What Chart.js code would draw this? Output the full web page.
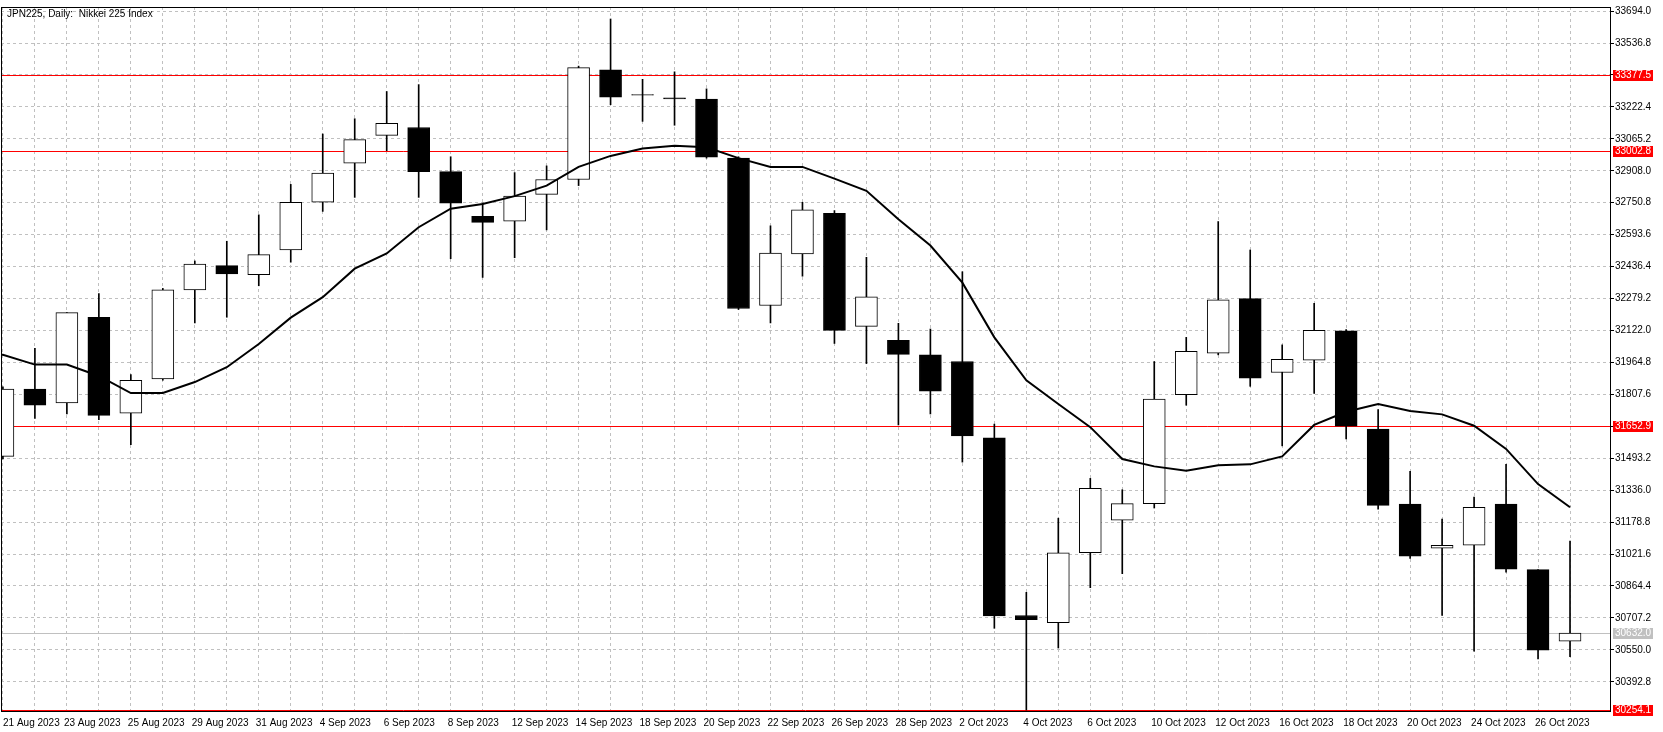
<!DOCTYPE html>
<html>
<head>
<meta charset="utf-8">
<script src="https://cdn.jsdelivr.net/npm/chart.js@4/dist/chart.umd.min.js"></script>
<style>
  html, body { margin: 0; padding: 0; background: #fff; }
  canvas { display: block; }
</style>
</head>
<body>
<canvas id="c" width="1663" height="732"></canvas>
<script>
const DATES = [
  "21 Aug 2023", "22 Aug 2023", "23 Aug 2023", "24 Aug 2023", "25 Aug 2023", "28 Aug 2023", "29 Aug 2023", "30 Aug 2023",
  "31 Aug 2023", "1 Sep 2023", "4 Sep 2023", "5 Sep 2023", "6 Sep 2023", "7 Sep 2023", "8 Sep 2023", "11 Sep 2023",
  "12 Sep 2023", "13 Sep 2023", "14 Sep 2023", "15 Sep 2023", "18 Sep 2023", "19 Sep 2023", "20 Sep 2023", "21 Sep 2023",
  "22 Sep 2023", "25 Sep 2023", "26 Sep 2023", "27 Sep 2023", "28 Sep 2023", "29 Sep 2023", "2 Oct 2023", "3 Oct 2023",
  "4 Oct 2023", "5 Oct 2023", "6 Oct 2023", "9 Oct 2023", "10 Oct 2023", "11 Oct 2023", "12 Oct 2023", "13 Oct 2023",
  "16 Oct 2023", "17 Oct 2023", "18 Oct 2023", "19 Oct 2023", "20 Oct 2023", "23 Oct 2023", "24 Oct 2023", "25 Oct 2023",
  "26 Oct 2023", "27 Oct 2023",
];
const OPEN = [
  31502, 31834, 31765, 32187, 31715, 31883, 32322, 32441, 32396, 32518, 32753, 32945, 33082,
  33121, 32904, 32684, 32660, 32792, 32865, 33405, 33283, 33267, 33261, 32970, 32245,
  32499, 32699, 32142, 32073, 32002, 31969, 31593, 30719, 30684, 31028, 31188, 31270,
  31806, 32010, 32279, 31915, 31976, 32120, 31636, 31267, 31050, 31065, 31267, 30945, 30593,
];
const HIGH = [
  31845, 32034, 32210, 32303, 31905, 32329, 32464, 32561, 32691, 32841, 33089, 33164, 33298,
  33332, 32977, 32749, 32899, 32932, 33423, 33655, 33358, 33395, 33311, 32977, 32637,
  32753, 32712, 32482, 32157, 32129, 32411, 31661, 30833, 31198, 31394, 31338, 31969,
  32088, 32658, 32518, 32051, 32256, 32126, 31733, 31429, 31194, 31302, 31463, 30945, 31085,
];
const LOW = [
  31490, 31689, 31711, 31683, 31560, 31877, 32159, 32187, 32342, 32458, 32708, 32777, 33007,
  32777, 32475, 32383, 32480, 32617, 32835, 33233, 33151, 33132, 32970, 32225, 32159,
  32389, 32058, 31959, 31657, 31711, 31474, 30656, 30254, 30559, 30856, 30925, 31248,
  31754, 32002, 31847, 31554, 31812, 31588, 31242, 31000, 30720, 30544, 30932, 30505, 30517,
];
const CLOSE = [
  31834, 31754, 32210, 31704, 31877, 32322, 32449, 32400, 32495, 32753, 32897, 33061, 33141,
  32904, 32749, 32654, 32783, 32865, 33416, 33270, 33280, 33262, 32975, 32230, 32503,
  32716, 32122, 32288, 32004, 31823, 31603, 30717, 30699, 31028, 31345, 31270, 31784,
  32019, 32273, 31887, 31980, 32122, 31651, 31261, 31011, 31065, 31252, 30947, 30548, 30632,
];
const MA = [
  32002, 31954, 31954, 31898, 31814, 31814, 31868, 31941, 32055, 32185, 32286, 32426, 32501,
  32630, 32721, 32744, 32783, 32835, 32927, 32981, 33018, 33031, 33024, 32970, 32927,
  32927, 32869, 32809, 32669, 32540, 32357, 32088, 31877, 31760, 31646, 31489, 31453, 31431,
  31459, 31463, 31502, 31657, 31722, 31760, 31726, 31709, 31653, 31539, 31366, 31252,
];
const TOP_TICK = 33694.0;
const Y_TICKS = [
  33536.8, 33379.6, 33222.4, 33065.2, 32908.0, 32750.8, 32593.6, 32436.4, 32279.2,
  32122.0, 31964.8, 31807.6, 31650.4, 31493.2, 31336.0, 31178.8, 31021.6, 30864.4, 30707.2,
  30550.0, 30392.8,
];
const HIDDEN_TICKS = [33379.6, 31650.4];
const LEVELS = [33377.5, 33002.8, 31652.9, 30254.1];
const LAST_PRICE = 30632.0;

const FONT = "Liberation Sans";
const idx = DATES.map((d, i) => i);
const up = idx.map((i) => CLOSE[i] >= OPEN[i]);

const levelsPlugin = {
  id: "levels",
  beforeDatasetsDraw(chart) {
    const { ctx, chartArea: a, scales } = chart;
    const y = scales.y;
    ctx.save();
    ctx.lineWidth = 1;
    ctx.strokeStyle = "#c0c0c0";
    ctx.setLineDash([3, 3]);
    let py = Math.round(y.getPixelForValue(TOP_TICK)) + 0.5;
    ctx.beginPath(); ctx.moveTo(a.left, py); ctx.lineTo(a.right, py); ctx.stroke();
    ctx.setLineDash([]);
    py = Math.round(y.getPixelForValue(LAST_PRICE)) + 0.5;
    ctx.beginPath(); ctx.moveTo(a.left, py); ctx.lineTo(a.right, py); ctx.stroke();
    ctx.strokeStyle = "#ff0000";
    LEVELS.forEach((v) => {
      const p = Math.round(y.getPixelForValue(v)) + 0.5;
      ctx.beginPath(); ctx.moveTo(a.left, p); ctx.lineTo(a.right, p); ctx.stroke();
    });
    ctx.restore();
  },
  afterDraw(chart) {
    const { ctx, chartArea: a, scales } = chart;
    const y = scales.y;
    const x = scales.x;
    ctx.save();
    ctx.strokeStyle = "#000";
    ctx.lineWidth = 1;
    ctx.strokeRect(a.left + 0.5, a.top + 0.5, a.right - a.left, a.bottom - a.top);
    ctx.font = "10px " + FONT;
    ctx.textBaseline = "middle";
    ctx.fillStyle = "#000";
    const ty = Math.round(y.getPixelForValue(TOP_TICK)) + 0.5;
    ctx.beginPath(); ctx.moveTo(a.right, ty); ctx.lineTo(a.right + 4, ty); ctx.stroke();
    ctx.fillText(TOP_TICK.toFixed(1), a.right + 5, ty);
    const tag = (v, bg, fg) => {
      const p = Math.round(y.getPixelForValue(v));
      ctx.fillStyle = bg;
      ctx.fillRect(a.right + 3, p - 5, 40, 11);
      ctx.fillStyle = fg;
      ctx.fillText(v.toFixed(1), a.right + 5, p + 0.5);
    };
    tag(LAST_PRICE, "#c0c0c0", "#ffffff");
    LEVELS.forEach((v) => tag(v, "#ff0000", "#ffffff"));
    ctx.fillStyle = "#000";
    ctx.textAlign = "left";
    idx.filter((i) => i % 2 === 0).forEach((i) => {
      const px = Math.max(x.getPixelForValue(i) - 3, a.left + 2);
      ctx.fillText(DATES[i], px, a.bottom + 12);
    });
    ctx.textBaseline = "top";
    ctx.fillText("JPN225, Daily:  Nikkei 225 Index", a.left + 6, a.top + 2);
    ctx.restore();
  },
};

new Chart(document.getElementById("c"), {
  data: {
    datasets: [
      {
        type: "line",
        data: [{ x: -0.06, y: MA[0] }].concat(idx.map((i) => ({ x: i, y: MA[i] }))),
        borderColor: "#000",
        borderWidth: 2,
        pointRadius: 0,
        pointHoverRadius: 0,
        tension: 0,
        order: 0,
      },
      {
        type: "bar",
        data: idx.map((i) => ({ x: i, y: [OPEN[i], CLOSE[i]] })),
        backgroundColor: idx.map((i) => (up[i] ? "#ffffff" : "#000000")),
        borderColor: "#000",
        borderWidth: 1,
        borderSkipped: false,
        barThickness: 22,
        grouped: false,
        order: 1,
      },
      {
        type: "bar",
        data: idx.map((i) => ({ x: i, y: [LOW[i], HIGH[i]] })),
        backgroundColor: "#000",
        barThickness: 1,
        grouped: false,
        order: 2,
      },
    ],
  },
  options: {
    responsive: false,
    animation: false,
    devicePixelRatio: 1,
    layout: { autoPadding: false, padding: { left: 1, top: 1, right: 0, bottom: 0 } },
    plugins: { legend: { display: false }, tooltip: { enabled: false } },
    scales: {
      x: {
        type: "linear",
        offset: false,
        min: -0.06,
        max: 50.25,
        afterBuildTicks: (s) => { s.ticks = idx.map((i) => ({ value: i })); },
        afterFit: (s) => { s.height = 21; },
        grid: { color: "#c0c0c0", drawTicks: false, offset: false },
        border: { display: false, dash: [3, 3] },
        ticks: { display: false },
      },
      y: {
        position: "right",
        min: 30249,
        max: 33714,
        afterBuildTicks: (s) => { s.ticks = Y_TICKS.map((v) => ({ value: v })); },
        afterFit: (s) => { s.width = 53; },
        grid: {
          color: "#c0c0c0",
          drawTicks: true,
          tickLength: 4,
          tickColor: "#000",
        },
        border: { display: true, color: "#000", dash: [3, 3] },
        ticks: {
          padding: 1,
          color: "#000",
          font: { family: FONT, size: 10 },
          callback: (v) => (HIDDEN_TICKS.includes(v) ? "" : v.toFixed(1)),
        },
      },
    },
  },
  plugins: [levelsPlugin],
});
</script>
</body>
</html>
